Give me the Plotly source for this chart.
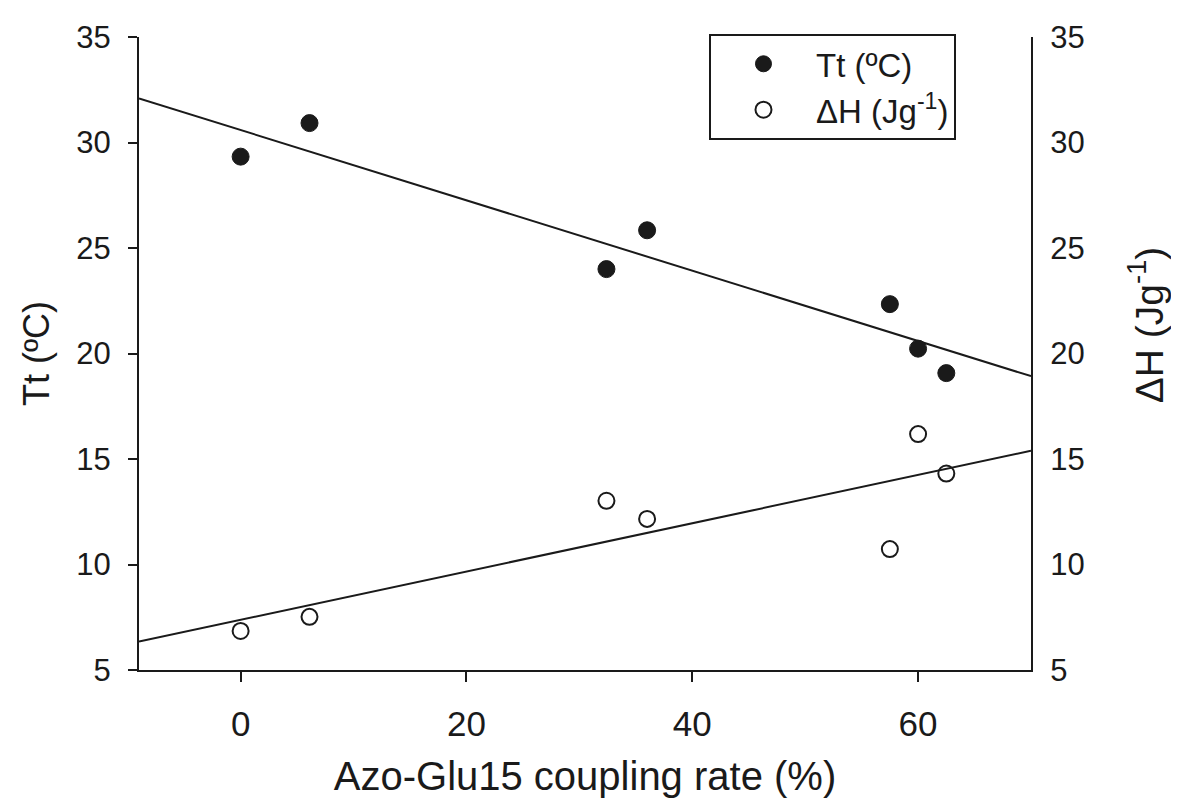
import numpy as np
import plotly.graph_objects as go

coupling_rate = [0, 6.1, 32.4, 36.0, 57.5, 60.0, 62.5]
tt_values = [29.33, 30.92, 24.0, 25.84, 22.34, 20.23, 19.07]
dh_values = [6.85, 7.52, 13.02, 12.16, 10.73, 16.18, 14.31]
x_ticks = [0, 20, 40, 60]
y_ticks = [5, 10, 15, 20, 25, 30, 35]
x_range = [-9, 70]
y_range = [5, 35]

fit_x = np.array(x_range, dtype=float)
tt_fit = np.polyval(np.polyfit(coupling_rate, tt_values, 1), fit_x)
dh_fit = np.polyval(np.polyfit(coupling_rate, dh_values, 1), fit_x)

FONT = "Liberation Sans, Arial, sans-serif"
INK = "#1a1a1a"

fig = go.Figure()
fig.add_trace(go.Scatter(x=fit_x, y=tt_fit, mode="lines", line=dict(color=INK, width=2),
                         showlegend=False, hoverinfo="skip", cliponaxis=False))
fig.add_trace(go.Scatter(x=fit_x, y=dh_fit, mode="lines", line=dict(color=INK, width=2),
                         showlegend=False, hoverinfo="skip", yaxis="y2", cliponaxis=False))
fig.add_trace(go.Scatter(x=coupling_rate, y=tt_values, mode="markers", name="Tt (ºC)",
                         marker=dict(symbol="circle", size=17, color=INK,
                                     line=dict(color=INK, width=1))))
fig.add_trace(go.Scatter(x=coupling_rate, y=dh_values, mode="markers", name="ΔH (Jg<sup>-1</sup>)",
                         yaxis="y2",
                         marker=dict(symbol="circle-open", size=16, color=INK,
                                     line=dict(color=INK, width=2))))

fig.update_layout(
    width=1171, height=797,
    margin=dict(l=131, r=148, t=20, b=135),
    paper_bgcolor="white", plot_bgcolor="white",
    font=dict(family=FONT, size=31, color=INK),
    xaxis=dict(range=x_range, tickvals=x_ticks, showgrid=False, zeroline=False,
               showline=True, linecolor=INK, linewidth=2, mirror=False,
               ticks="outside", ticklen=10, tickwidth=2, tickcolor=INK,
               tickfont=dict(size=35), ticklabelstandoff=12,
               title=dict(text="Azo-Glu15 coupling rate (%)", font=dict(size=40),
                          standoff=20)),
    yaxis=dict(range=y_range, tickvals=y_ticks, showgrid=False, zeroline=False,
               showline=True, linecolor=INK, linewidth=2,
               ticks="outside", ticklen=9, tickwidth=2, tickcolor=INK,
               tickfont=dict(size=31), ticklabelstandoff=11,
               title=dict(text="Tt (ºC)", font=dict(size=36), standoff=16)),
    yaxis2=dict(range=y_range, tickvals=y_ticks, overlaying="y", side="right",
                showgrid=False, zeroline=False, showline=True, linecolor=INK, linewidth=2,
                ticks="", tickfont=dict(size=31), ticklabelstandoff=11),
    legend=dict(x=0.639, y=1.005, xanchor="left", yanchor="top",
                bordercolor=INK, borderwidth=2, bgcolor="white",
                font=dict(size=33), itemwidth=95, tracegroupgap=0),
    showlegend=True,
)

fig.add_annotation(text="ΔH (Jg<sup>-1</sup>)", textangle=-90, showarrow=False,
                   xref="paper", yref="paper", x=1.128, y=0.545,
                   xanchor="center", yanchor="middle", font=dict(size=39, color=INK))

fig.write_html("out.html")
